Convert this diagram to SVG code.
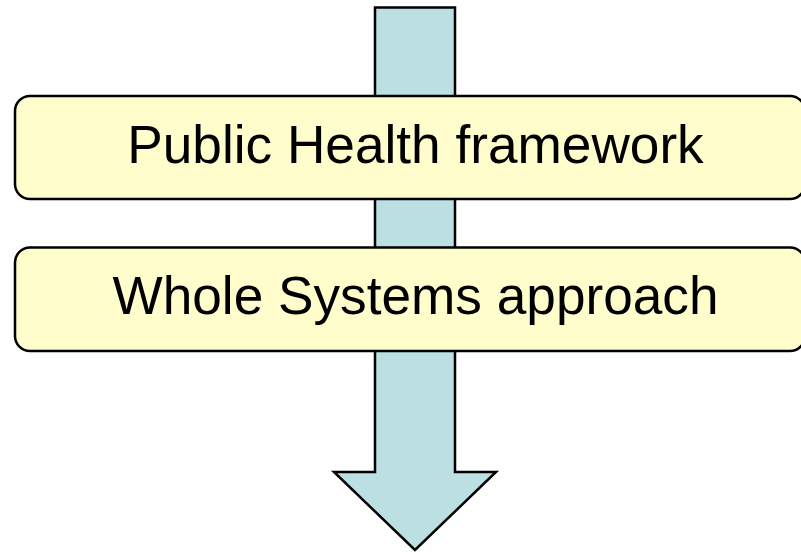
<svg xmlns="http://www.w3.org/2000/svg" width="801" height="552" viewBox="0 0 801 552">
<style>
.box{fill:#FFFDCC;stroke:#000;stroke-width:2.5}
.lbl{font-family:"Liberation Sans",Arial,sans-serif;font-size:53.2px;fill:#000;text-anchor:middle}
</style>
<g id="connectors">
<polygon id="arrow" points="375,7.5 455,7.5 455,472 496,472 415,550 334,472 375,472" fill="#BBDFE2" stroke="#000" stroke-width="2.5" stroke-linejoin="miter"/>
</g>
<g id="node-public-health">
<rect class="box" x="15" y="96" width="790" height="103" rx="15"/>
<text class="lbl" x="415.5" y="162.5">Public Health framework</text>
</g>
<g id="node-whole-systems">
<rect class="box" x="15" y="247.5" width="790" height="103.5" rx="15"/>
<text class="lbl" x="415.5" y="313.5">Whole Systems approach</text>
</g>
</svg>
